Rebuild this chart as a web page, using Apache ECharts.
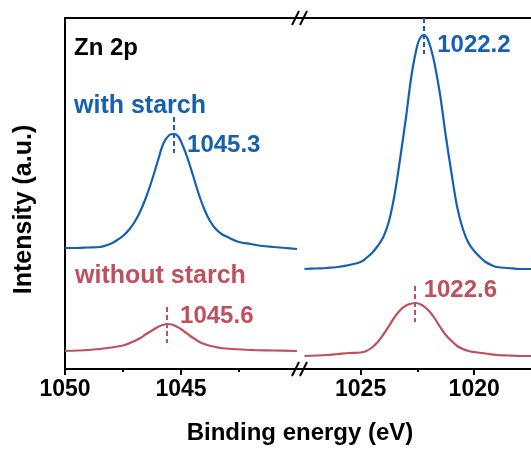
<!DOCTYPE html>
<html>
<head>
<meta charset="utf-8">
<script src="https://cdn.jsdelivr.net/npm/echarts@6/dist/echarts.min.js"></script>
<style>
html,body{margin:0;padding:0;background:#fff;}
#chart{width:531px;height:450px;}
</style>
</head>
<body>
<div id="chart"></div>
<script>
// ---- data (binding energy in eV, intensity in arbitrary units) ----
const withLeftEnergy = [1050.0,1049.5,1049.0,1048.5,1048.0,1047.75,1047.5,1047.25,1047.0,1046.75,1046.5,1046.25,1046.0,1045.75,1045.5,1045.3,1045.1,1044.9,1044.75,1044.5,1044.25,1044.0,1043.75,1043.5,1043.25,1043.0,1042.5,1042.0,1041.5,1041.0,1040.5,1040.0];
const withLeftIntensity = [121,121,121.5,122,125.5,129,133,139,147,158,172,189,208,226,234,235,232,222,213,195,176,160,148,140,135,132,127,125,123,122,121,120];

const withoutLeftEnergy = [1050.0,1049.0,1048.5,1048.0,1047.5,1047.25,1047.0,1046.75,1046.5,1046.25,1046.0,1045.8,1045.6,1045.4,1045.2,1045.0,1044.8,1044.6,1044.4,1044.2,1044.0,1043.8,1043.5,1043.3,1042.8,1042.0,1041.0,1040.0];
const withoutLeftIntensity = [18,19,20,21.5,23.5,25.5,28,31,35,38.5,42,44,45,44.5,42.5,40,36.5,33,30,27,25,23.5,22,21,20,19,18.5,18];

const withRightEnergy = [1027.47,1027.0,1026.5,1026.0,1025.5,1025.0,1024.75,1024.5,1024.25,1024.0,1023.75,1023.5,1023.25,1023.0,1022.75,1022.5,1022.35,1022.2,1022.05,1021.9,1021.75,1021.5,1021.25,1021.0,1020.75,1020.5,1020.25,1020.0,1019.75,1019.5,1019.25,1019.0,1018.5,1018.0,1017.5];
const withRightIntensity = [100,100.5,101,102,104,107,111,116,123,132,148,175,212,252,295,324,332,334,330,320,306,274,233,196,162,140,126,118,112,107,104,102,101,100,100];

const withoutRightEnergy = [1027.47,1026.5,1026.0,1025.5,1025.0,1024.75,1024.5,1024.25,1024.0,1023.75,1023.5,1023.25,1023.0,1022.75,1022.56,1022.35,1022.15,1021.95,1021.75,1021.5,1021.25,1021.0,1020.75,1020.5,1020.25,1020.0,1019.5,1019.0,1018.5,1018.0,1017.5];
const withoutRightIntensity = [13,14,15,16,16.5,18,21.5,27,34.5,43,52,59,63.5,65.5,66,64.5,61.5,57,51,42,34,28,23,20,18,17,15.5,14,13.5,13,13];

const peaksWith = [1045.3, 1022.2];
const peaksWithout = [1045.6, 1022.6];

const leftTicks = [1050, 1045];
const leftMinorTicks = [1047.5, 1042.5];
const rightTicks = [1025, 1020];
const rightMinorTicks = [1022.5];

const seriesNames = ['with starch', 'without starch'];
const panelTitle = 'Zn 2p';
const xTitle = 'Binding energy (eV)';
const yTitle = 'Intensity (a.u.)';

// ---- styling ----
const BLUE = '#1560b0';
const RED = '#c0505e';
const FONT = '"Liberation Sans", Arial, sans-serif';

function pairs(xs, ys) { return xs.map((x, i) => [x, ys[i]]); }
function peakY(xs, ys, p) {
  let best = 0, bd = Infinity;
  xs.forEach((x, i) => { const d = Math.abs(x - p); if (d < bd) { bd = d; best = i; } });
  return ys[best];
}

const chart = echarts.init(document.getElementById('chart'), null, {renderer: 'canvas'});

const Y_MAX = 351;
const L = {min: 1040, max: 1050};
const R = {min: 1017.5, max: 1027.8};

function mainX(grid, rng, ticks) {
  return {
    type: 'value', gridIndex: grid, position: 'bottom', inverse: true,
    min: rng.min, max: rng.max,
    axisLine: {show: true, onZero: false, lineStyle: {color: '#000', width: 2}},
    axisTick: {show: true, customValues: ticks, length: 6, lineStyle: {color: '#000', width: 2}},
    axisLabel: {show: true, customValues: ticks, margin: 9, color: '#000',
      formatter: v => String(v),
      fontSize: 23, fontWeight: 'bold', fontFamily: FONT},
    splitLine: {show: false}
  };
}
function minorX(grid, rng, ticks) {
  return {
    type: 'value', gridIndex: grid, position: 'bottom', inverse: true,
    min: rng.min, max: rng.max,
    axisLine: {show: false},
    axisTick: {show: true, customValues: ticks, length: 3, lineStyle: {color: '#000', width: 2}},
    axisLabel: {show: false}, splitLine: {show: false}
  };
}
function topX(grid, rng) {
  return {
    type: 'value', gridIndex: grid, position: 'top', inverse: true,
    min: rng.min, max: rng.max,
    axisLine: {show: true, onZero: false, lineStyle: {color: '#000', width: 2}},
    axisTick: {show: false}, axisLabel: {show: false}, splitLine: {show: false}
  };
}

function lineSeries(name, xi, yi, xs, ys, color, peak, labelOffset) {
  const py = peakY(xs, ys, peak);
  return {
    name: name, type: 'line', xAxisIndex: xi, yAxisIndex: yi,
    data: pairs(xs, ys), showSymbol: false, smooth: 0.35,
    lineStyle: {color: color, width: 2.2}, itemStyle: {color: color},
    z: 3, silent: true,
    markLine: {
      silent: true, symbol: 'none', animation: false,
      lineStyle: {color: color, width: 2, type: [5, 3]},
      label: {show: false},
      data: [[{coord: [peak, py + 17]}, {coord: [peak, py - 19]}]]
    },
    markPoint: {
      silent: true, animation: false, symbol: 'circle', symbolSize: 0,
      data: [{coord: [peak, py], value: peak}],
      label: {show: true, position: labelOffset, align: 'left', verticalAlign: 'middle',
        formatter: p => p.value.toFixed(1), color: color,
        fontSize: 24, fontWeight: 'bold', fontFamily: FONT}
    }
  };
}

const option = {
  animation: false,
  backgroundColor: '#fff',
  grid: [
    {left: 65, top: 18, width: 232, height: 351},
    {left: 297, top: 18, width: 239, height: 351}
  ],
  xAxis: [
    mainX(0, L, leftTicks), minorX(0, L, leftMinorTicks), topX(0, L),
    mainX(1, R, rightTicks), minorX(1, R, rightMinorTicks), topX(1, R)
  ],
  yAxis: [
    {type: 'value', gridIndex: 0, min: 0, max: Y_MAX,
      axisLine: {show: true, lineStyle: {color: '#000', width: 2}},
      axisTick: {show: false}, axisLabel: {show: false}, splitLine: {show: false}},
    {type: 'value', gridIndex: 1, min: 0, max: Y_MAX,
      axisLine: {show: false}, axisTick: {show: false}, axisLabel: {show: false}, splitLine: {show: false}}
  ],
  series: [
    lineSeries(seriesNames[0], 0, 0, withLeftEnergy, withLeftIntensity, BLUE, peaksWith[0], [13, 11]),
    lineSeries(seriesNames[1], 0, 0, withoutLeftEnergy, withoutLeftIntensity, RED, peaksWithout[0], [13, -7.5]),
    lineSeries(seriesNames[0], 3, 1, withRightEnergy, withRightIntensity, BLUE, peaksWith[1], [13, 10.5]),
    lineSeries(seriesNames[1], 3, 1, withoutRightEnergy, withoutRightIntensity, RED, peaksWithout[1], [8.5, -12.5])
  ],
  graphic: [
    {type: 'text', silent: true, style: {text: panelTitle, x: 74, y: 48, align: 'left', verticalAlign: 'middle',
      fill: '#000', font: 'bold 24px ' + FONT}},
    {type: 'text', silent: true, style: {text: seriesNames[0], x: 74, y: 106, align: 'left', verticalAlign: 'middle',
      fill: BLUE, font: 'bold 25px ' + FONT}},
    {type: 'text', silent: true, style: {text: seriesNames[1], x: 75, y: 276.5, align: 'left', verticalAlign: 'middle',
      fill: RED, font: 'bold 25px ' + FONT}},
    {type: 'text', silent: true, style: {text: xTitle, x: 300, y: 433.5, align: 'center', verticalAlign: 'middle',
      fill: '#000', font: 'bold 24px ' + FONT}},
    {type: 'text', silent: true, x: 24, y: 209.5, rotation: Math.PI / 2,
      style: {text: yTitle, x: 0, y: 0, align: 'center', verticalAlign: 'middle',
      fill: '#000', font: 'bold 25px ' + FONT}},
    // axis break marks
    {type: 'line', silent: true, shape: {x1: 292, y1: 25, x2: 299, y2: 11}, style: {stroke: '#000', lineWidth: 2}},
    {type: 'line', silent: true, shape: {x1: 300, y1: 25, x2: 307, y2: 11}, style: {stroke: '#000', lineWidth: 2}},
    {type: 'line', silent: true, shape: {x1: 292, y1: 376, x2: 299, y2: 362}, style: {stroke: '#000', lineWidth: 2}},
    {type: 'line', silent: true, shape: {x1: 300, y1: 376, x2: 307, y2: 362}, style: {stroke: '#000', lineWidth: 2}}
  ]
};
chart.setOption(option);
</script>
</body>
</html>
